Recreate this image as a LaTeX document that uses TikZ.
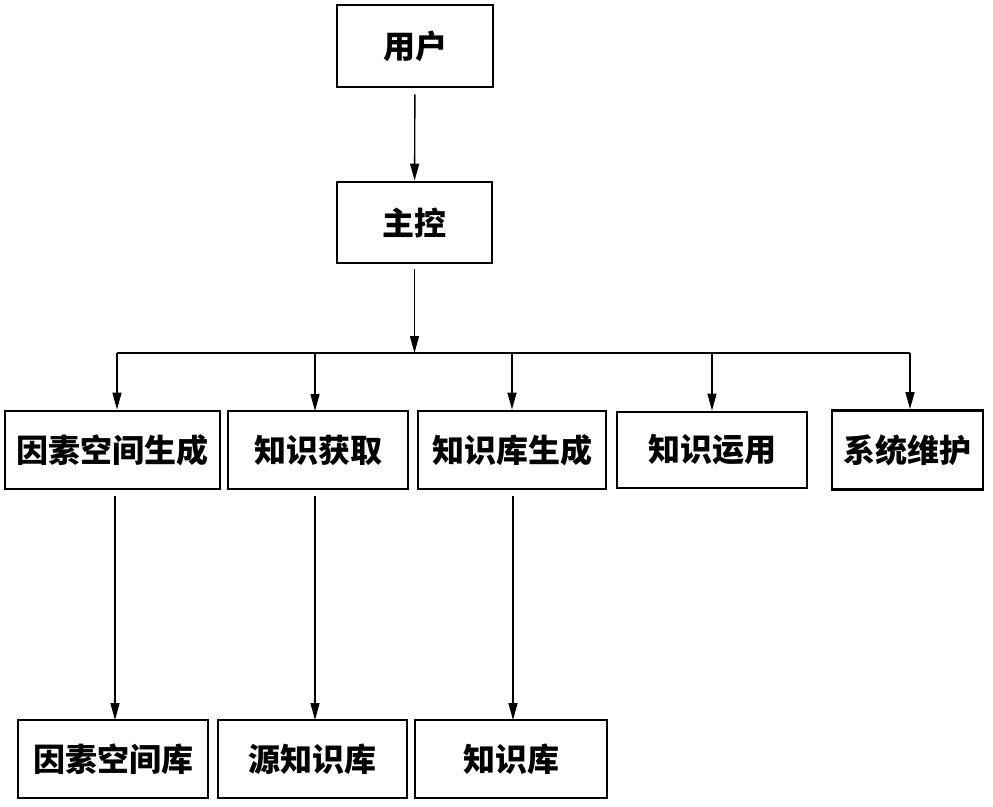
\documentclass[tikz,border=0pt]{standalone}
\usepackage{fontspec}
\usepackage{tikz}
\usetikzlibrary{arrows.meta,calc}
\newfontfamily\cjk{Noto Sans CJK SC}

\tikzset{
  box/.style={draw, line width=2.8pt, inner sep=0pt, align=center,
    font=\cjk\bfseries\fontsize{32}{36}\selectfont},
  link/.style={line width=1.4pt, -{Triangle[length=17pt,width=9pt]}},
  bus/.style={line width=1.4pt}
}

\begin{document}
\begin{tikzpicture}[x=1pt,y=-1pt]
        \useasboundingbox (0,0) rectangle (993,806);
        % top
        \node[box, minimum width=156pt, minimum height=82pt] (user) at (415,46) {用户};
        \node[box, minimum width=155pt, minimum height=81pt] (main) at (414.5,222.5) {主控};
        % middle row
        \node[box, minimum width=215pt, minimum height=78pt] (f1) at (112.5,450) {因素空间生成};
        \node[box, minimum width=180pt, minimum height=78pt] (f2) at (318,450) {知识获取};
        \node[box, minimum width=188pt, minimum height=78pt] (f3) at (512,450) {知识库生成};
        \node[box, minimum width=190pt, minimum height=76pt] (f4) at (712,450) {知识运用};
        \node[box, minimum width=151pt, minimum height=79pt] (f5) at (907.5,450) {系统维护};
        % bottom row
        \node[box, minimum width=190pt, minimum height=78pt] (b1) at (113,759) {因素空间库};
        \node[box, minimum width=189pt, minimum height=78pt] (b2) at (312.5,759) {源知识库};
        \node[box, minimum width=192pt, minimum height=78pt] (b3) at (511,759) {知识库};
        % bus and drop points
        \coordinate (bl) at (117,353);
        \coordinate (br) at (910,353);
        \coordinate (t2) at (315,411);
        \coordinate (d1) at (115,720);
        \coordinate (d2) at (315,720);
        \coordinate (d3) at (513,720);
        \draw[link, shorten <=6pt] (user) -- (main);
        \draw[link, shorten <=5pt] (main.south) -- (main.south |- bl);
        \draw[bus] (bl) -- (br);
        \draw[link] (bl) -- (bl |- f1.north);
        \draw[link] (t2 |- bl) -- (t2);
        \draw[link] (f3.north |- bl) -- (f3.north);
        \draw[link] (f4.north |- bl) -- (f4.north);
        \draw[link] (br) -- (br |- f5.north);
        \draw[link, shorten <=6pt] (d1 |- f1.south) -- (d1);
        \draw[link, shorten <=6pt] (d2 |- f2.south) -- (d2);
        \draw[link, shorten <=6pt] (d3 |- f3.south) -- (d3);
    \end{tikzpicture}
\end{document}
